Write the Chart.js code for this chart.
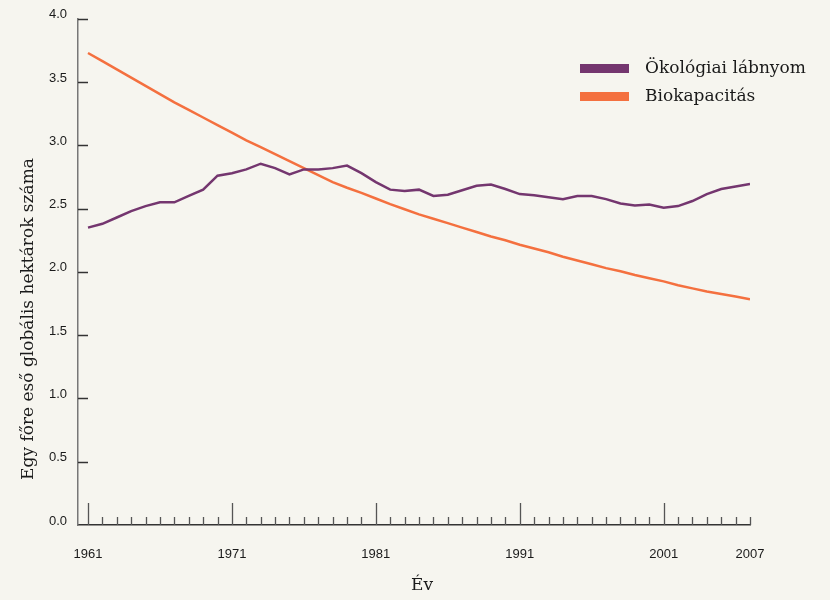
<!DOCTYPE html>
<html>
<head>
<meta charset="utf-8">
<script src="https://cdn.jsdelivr.net/npm/chart.js@4/dist/chart.umd.min.js"></script>
<style>
  html, body { margin: 0; padding: 0; background: #f6f5ef; }
  #wrap { width: 830px; height: 600px; }
</style>
</head>
<body>
<div id="wrap"><canvas id="footprint" width="830" height="600"></canvas></div>
<script>
const years = [1961, 1962, 1963, 1964, 1965, 1966, 1967, 1968, 1969, 1970,
  1971, 1972, 1973, 1974, 1975, 1976, 1977, 1978, 1979, 1980,
  1981, 1982, 1983, 1984, 1985, 1986, 1987, 1988, 1989, 1990,
  1991, 1992, 1993, 1994, 1995, 1996, 1997, 1998, 1999, 2000,
  2001, 2002, 2003, 2004, 2005, 2006, 2007]

const footprint = [2.35, 2.38, 2.43, 2.48, 2.52, 2.55, 2.55, 2.60, 2.65, 2.76,
  2.78, 2.81, 2.855, 2.82, 2.77, 2.81, 2.81, 2.82, 2.84, 2.78,
  2.71, 2.65, 2.64, 2.65, 2.60, 2.61, 2.645, 2.68, 2.69, 2.655,
  2.615, 2.605, 2.59, 2.575, 2.60, 2.60, 2.575, 2.54, 2.525, 2.533,
  2.507, 2.52, 2.56, 2.615, 2.655, 2.675, 2.695]

const biocapacity = [3.73, 3.665, 3.60, 3.535, 3.47, 3.405, 3.34, 3.28, 3.22, 3.16,
  3.10, 3.04, 2.985, 2.93, 2.875, 2.82, 2.765, 2.71, 2.665, 2.625,
  2.58, 2.535, 2.495, 2.455, 2.42, 2.385, 2.35, 2.315, 2.28, 2.25,
  2.215, 2.185, 2.155, 2.12, 2.09, 2.06, 2.03, 2.005, 1.975, 1.95,
  1.925, 1.895, 1.87, 1.845, 1.825, 1.805, 1.783]

const tickYears = [1961, 1971, 1981, 1991, 2001, 2007]
const seriesNames = ['Ökológiai lábnyom', 'Biokapacitás']
const seriesColors = ['#74366f', '#f4703f']
const yTitle = 'Egy főre eső globális hektárok száma'
const xTitle = 'Év'

const serif = '"DejaVu Serif", "Liberation Serif", serif'
const sans = '"Liberation Sans", Arial, sans-serif'

// tick marks point into the plot, drawn from the scales
const tickMarks = {
  id: 'tickMarks',
  afterDraw(chart) {
    const ctx = chart.ctx
    const xs = chart.scales.x, ys = chart.scales.y
    const area = chart.chartArea
    ctx.save()
    ctx.strokeStyle = '#555'
    ctx.lineWidth = 1.3
    years.forEach(yr => {
      const px = Math.round(xs.getPixelForValue(yr)) + 0.5
      const len = (yr - 1961) % 10 === 0 ? 22 : 8
      ctx.beginPath()
      ctx.moveTo(px, area.bottom)
      ctx.lineTo(px, area.bottom - len)
      ctx.stroke()
    })
    ctx.strokeStyle = '#333'
    ctx.lineWidth = 1.5
    ys.ticks.forEach(t => {
      if (t.value === 0) return
      const py = Math.round(ys.getPixelForValue(t.value)) + 0.5
      ctx.beginPath()
      ctx.moveTo(area.left, py)
      ctx.lineTo(area.left + 10, py)
      ctx.stroke()
    })
    ctx.restore()
  }
}

const titlesAndLegend = {
  id: 'titlesAndLegend',
  afterDraw(chart) {
    const ctx = chart.ctx
    ctx.save()
    ctx.fillStyle = '#1a1a1a'
    ctx.font = '17px ' + serif
    ctx.textBaseline = 'middle'
    ctx.textAlign = 'center'
    ctx.save()
    ctx.translate(29, 319)
    ctx.rotate(-Math.PI / 2)
    ctx.fillText(yTitle, 0, 0)
    ctx.restore()
    ctx.fillText(xTitle, 422, 586)

    ctx.textAlign = 'left'
    chart.data.datasets.forEach((ds, i) => {
      ctx.fillStyle = ds.borderColor
      ctx.fillRect(580, 64 + i * 28, 49, 9)
      ctx.fillStyle = '#1a1a1a'
      ctx.fillText(ds.label, 645, 69 + i * 28)
    })
    ctx.restore()
  }
}

const bg = {
  id: 'bg',
  beforeDraw(chart) {
    const ctx = chart.ctx
    ctx.save()
    ctx.fillStyle = '#f6f5ef'
    ctx.fillRect(0, 0, chart.width, chart.height)
    ctx.restore()
  }
}

const chart = new Chart(document.getElementById('footprint'), {
  type: 'line',
  data: {
    datasets: [footprint, biocapacity].map((vals, i) => ({
      label: seriesNames[i],
      data: years.map((yr, j) => ({ x: yr, y: vals[j] })),
      borderColor: seriesColors[i],
      backgroundColor: seriesColors[i],
      borderWidth: 2.5,
      pointRadius: 0,
      tension: 0,
      fill: false
    }))
  },
  options: {
    responsive: false,
    animation: false,
    layout: { padding: { top: 15, right: 80, left: 0, bottom: 0 } },
    plugins: {
      legend: { display: false },
      tooltip: { enabled: false }
    },
    scales: {
      x: {
        type: 'linear',
        min: 1961 - 10 / 14.4,
        max: 2007,
        afterBuildTicks: scale => { scale.ticks = tickYears.map(v => ({ value: v })) },
        afterFit: scale => { scale.height = 75 },
        grid: { display: false, drawTicks: false },
        border: { display: true, color: '#333', width: 1.5 },
        ticks: {
          callback: v => String(v),
          padding: 22,
          maxRotation: 0,
          autoSkip: false,
          color: '#1a1a1a',
          font: { family: sans, size: 13 }
        }
      },
      y: {
        min: 0,
        max: 4,
        afterFit: scale => { scale.width = 78 },
        grid: { display: false, drawTicks: false },
        border: { display: true, color: '#777', width: 1.5 },
        ticks: {
          stepSize: 0.5,
          callback: v => v.toFixed(1),
          padding: 11,
          labelOffset: -4,
          color: '#1a1a1a',
          font: { family: sans, size: 13 }
        }
      }
    }
  },
  plugins: [bg, tickMarks, titlesAndLegend]
})
</script>
</body>
</html>
